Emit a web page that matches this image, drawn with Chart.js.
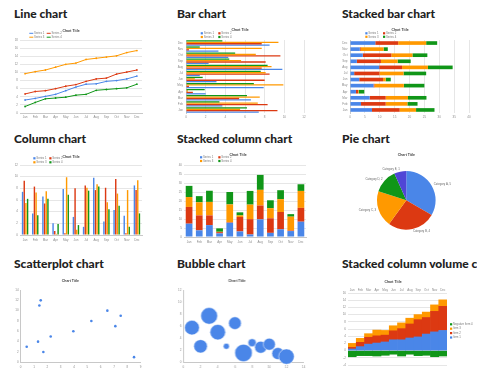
<!DOCTYPE html>
<html><head><meta charset="utf-8">
<script src="https://cdn.jsdelivr.net/npm/chart.js@4.4.0/dist/chart.umd.min.js"></script>
<style>
html,body{margin:0;padding:0;background:#fff;width:477px;height:381px;overflow:hidden;position:relative}
.h{position:absolute;font-family:Lato,'Open Sans',sans-serif;font-weight:900;font-size:12px;line-height:12px;color:#222;white-space:nowrap}
canvas{position:absolute}
</style></head><body>
<div class="h" style="left:14px;top:8px">Line chart</div>
<div class="h" style="left:177px;top:8px">Bar chart</div>
<div class="h" style="left:342px;top:8px">Stacked bar chart</div>
<div class="h" style="left:14px;top:133px">Column chart</div>
<div class="h" style="left:177px;top:133px">Stacked column chart</div>
<div class="h" style="left:342px;top:133px">Pie chart</div>
<div class="h" style="left:14px;top:258px">Scatterplot chart</div>
<div class="h" style="left:177px;top:258px">Bubble chart</div>
<div class="h" style="left:342px;top:258px">Stacked column volume chart</div>
<script>
// ---------- data ----------
const months = ['Jan','Feb','Mar','Apr','May','Jun','Jul','Aug','Sep','Oct','Nov','Dec'];
const seriesNames = ['Series 1','Series 2','Series 3','Series 4'];
const chartTitle = 'Chart Title';

const lineS1 = [3.2,3.6,4.1,4.6,5.5,6.4,7.1,7.2,7.8,8.0,8.4,9.1];
const lineS2 = [4.7,5.3,5.5,6.0,6.6,7.0,7.8,8.4,8.6,9.6,10.1,10.6];
const lineS3 = [9.7,10.2,10.6,11.3,12.0,12.3,13.2,13.5,13.8,14.1,14.9,15.4];
const lineS4 = [1.6,2.6,3.5,3.7,3.9,4.4,4.6,5.6,5.8,6.0,6.2,7.1];

const barS1 = [7.4,3.7,6.6,2.0,7.9,3.1,1.4,9.8,2.3,4.3,3.3,8.5];
const barS2 = [9.3,8.3,5.4,0.7,0.3,8.0,8.5,7.7,8.1,9.6,0.3,7.7];
const barS3 = [5.5,7.3,7.5,0.2,9.9,0.9,8.1,8.7,5.6,7.1,7.7,9.4];
const barS4 = [6.2,3.4,6.2,1.9,6.9,1.7,7.6,8.3,4.4,5.0,1.4,3.7];

const pieLabels = ['Category A','Category B','Category C','Category D','Category E'];
const pieValues = [5,4,3,2,1];

const scatterX = [0.45,1.3,1.4,1.5,1.7,2.25,3.95,5.3,6.5,7.1,7.5,8.5];
const scatterY = [3,4,11,12,2,5,6,8,10,7,9,1];

const bubbleX = [1,2,3,4,5,6,7,8,9,10,11,12];
const bubbleY = [5.75,2.65,7.7,5.0,2.65,6.5,1.55,3.25,2.5,3.0,1.45,0.95];
const bubbleSize = [7.3,6.7,8.3,7.7,3,6.3,8.7,4,6,6,6,7.7];

const volNames = ['Item 1','Item 2','Item 3','Negative Item 4'];
const volItem1 = [0.45,1.1,1.8,2.1,2.4,3.0,3.0,3.5,3.8,4.6,5.2,5.6];
const volItem2 = [0.45,1.2,1.9,2.0,1.9,2.5,3.1,3.9,4.8,4.6,5.7,6.7];
const volItem3 = [1.1,1.1,1.0,1.6,1.3,1.4,1.6,1.6,1.4,1.5,1.8,1.8];
const volNeg   = [-1.7,-1.4,-1.4,-1.5,-1.3,-1.0,-1.5,-1.0,-1.4,-1.3,-1.7,-1.5];

// ---------- styling ----------
const C = {blue:'#4a86e8', red:'#dc3912', orange:'#ff9900', green:'#109618', purple:'#5046d6'};
const FAMILY = "'Liberation Sans', Arial, sans-serif";
const TICK = {size:3, family:FAMILY};
const TC = '#8c8c8c';
const GRID = '#e6e6e6';
const AXIS = '#c8c8c8';
Chart.defaults.font.family = FAMILY;

function fit(size){
  return function(s){
    if (s.isHorizontal()) s.height = size; else s.width = size;
    s.paddingLeft = s.paddingRight = s.paddingTop = s.paddingBottom = 0;
  };
}
function title(padBottom){
  return {display:true, text:chartTitle, color:'#444', font:{size:3.5, weight:'bold', family:FAMILY}, padding:{top:0, bottom:padBottom}};
}

const miniLegend = {
  id:'miniLegend',
  afterDraw(chart, args, o){
    if (!o || !o.items) return;
    const ctx = chart.ctx; ctx.save();
    ctx.font = (o.size || 2.8) + 'px ' + FAMILY;
    ctx.textBaseline = 'middle'; ctx.textAlign = 'left';
    o.items.forEach((idx, k) => {
      const ds = chart.data.datasets[idx];
      const col = k % o.cols, row = Math.floor(k / o.cols);
      const x = o.x + col*o.colW - o.ox, y = o.y + row*o.rowH - o.oy;
      ctx.fillStyle = o.line ? ds.borderColor : ds.backgroundColor;
      if (o.line) ctx.fillRect(x, y-0.5, 4, 1); else ctx.fillRect(x, y-1.1, 2.2, 2.2);
      ctx.fillStyle = '#777';
      ctx.fillText(ds.label, x + (o.line ? 4.8 : 3), y);
    });
    ctx.restore();
  }
};
const pieLabelPlugin = {
  id:'pieLabelPlugin',
  afterDraw(chart, args, o){
    if (!o || !o.on) return;
    const meta = chart.getDatasetMeta(0); const ctx = chart.ctx;
    ctx.save(); ctx.font = '2.8px ' + FAMILY; ctx.fillStyle = '#666'; ctx.textBaseline = 'middle';
    meta.data.forEach((arc, i) => {
      const mid = (arc.startAngle + arc.endAngle)/2;
      const r = arc.outerRadius + 2.5;
      const x = arc.x + Math.cos(mid)*r, y = arc.y + Math.sin(mid)*r;
      ctx.textAlign = Math.cos(mid) >= 0 ? 'left' : 'right';
      ctx.fillText(chart.data.labels[i] + ', ' + chart.data.datasets[0].data[i], x, y);
    });
    ctx.restore();
  }
};
Chart.register(miniLegend, pieLabelPlugin);

function makeChart(spec, config){
  const cv = document.createElement('canvas');
  cv.width = spec.width; cv.height = spec.height;
  cv.style.left = spec.left + 'px'; cv.style.top = spec.top + 'px';
  cv.style.width = spec.width + 'px'; cv.style.height = spec.height + 'px';
  document.body.appendChild(cv);
  config.options = Object.assign({responsive:false, animation:false, devicePixelRatio:1}, config.options);
  return new Chart(cv.getContext('2d'), config);
}
function ticks(extra){ return Object.assign({font:TICK, color:TC}, extra || {}); }
const noTip = {enabled:false};

// 1. Line chart
makeChart({left:0, top:24, width:166, height:100}, {
  type:'line',
  data:{labels:months, datasets:[
    {label:seriesNames[0], data:lineS1, borderColor:C.blue, backgroundColor:C.blue},
    {label:seriesNames[1], data:lineS2, borderColor:C.red, backgroundColor:C.red},
    {label:seriesNames[2], data:lineS3, borderColor:C.orange, backgroundColor:C.orange},
    {label:seriesNames[3], data:lineS4, borderColor:C.green, backgroundColor:C.green}]},
  options:{
    layout:{padding:{top:4.6, right:24, bottom:0, left:0}},
    elements:{line:{borderWidth:1, tension:0}, point:{radius:0.9, borderWidth:0}},
    plugins:{legend:{display:false}, tooltip:noTip, title:title(7.2),
      miniLegend:{items:[0,1,2,3], cols:2, x:29.3, y:33.3, colW:17.4, rowH:3.9, ox:0, oy:24, line:true}},
    scales:{
      x:{offset:true, grid:{display:false, drawTicks:false}, border:{color:AXIS}, ticks:ticks({padding:2.5, maxRotation:0, autoSkip:false}), afterFit:fit(11)},
      y:{min:0, max:18, ticks:ticks({stepSize:2, padding:2}), grid:{color:GRID, drawTicks:false}, border:{display:false}, afterFit:fit(20)}
    }
  }
});

// 2. Bar chart (horizontal, grouped)
makeChart({left:176, top:24, width:142, height:100}, {
  type:'bar',
  data:{labels:months, datasets:[
    {label:seriesNames[0], data:barS1, backgroundColor:C.blue, order:4},
    {label:seriesNames[1], data:barS2, backgroundColor:C.red, order:3},
    {label:seriesNames[2], data:barS3, backgroundColor:C.orange, order:2},
    {label:seriesNames[3], data:barS4, backgroundColor:C.green, order:1}]},
  options:{
    indexAxis:'y',
    datasets:{bar:{categoryPercentage:0.92, barPercentage:0.92}},
    layout:{padding:{top:3.9, right:14, bottom:0, left:0}},
    plugins:{legend:{display:false}, tooltip:noTip, title:title(7.9),
      miniLegend:{items:[0,1,2,3], cols:2, x:200.7, y:33.3, colW:17.6, rowH:3.7, ox:176, oy:24}},
    scales:{
      x:{min:0, max:12, ticks:ticks({stepSize:2, padding:2.5}), grid:{color:GRID, drawTicks:false}, border:{display:false}, afterFit:fit(11)},
      y:{reverse:true, grid:{display:false, drawTicks:false}, border:{color:AXIS}, ticks:ticks({padding:3, autoSkip:false}), afterFit:fit(10)}
    }
  }
});

// 3. Stacked bar chart
makeChart({left:331, top:24, width:146, height:100}, {
  type:'bar',
  data:{labels:months, datasets:[
    {label:seriesNames[0], data:barS1, backgroundColor:C.blue},
    {label:seriesNames[1], data:barS2, backgroundColor:C.red},
    {label:seriesNames[2], data:barS3, backgroundColor:C.orange},
    {label:seriesNames[3], data:barS4, backgroundColor:C.green}]},
  options:{
    indexAxis:'y',
    datasets:{bar:{categoryPercentage:0.6, barPercentage:1}},
    layout:{padding:{top:3.9, right:8, bottom:0, left:0}},
    plugins:{legend:{display:false}, tooltip:noTip, title:title(7.9),
      miniLegend:{items:[0,1,2,3], cols:2, x:365.3, y:33.3, colW:17.7, rowH:3.5, ox:331, oy:24}},
    scales:{
      x:{stacked:true, min:0, max:40, ticks:ticks({stepSize:5, padding:2.5}), grid:{color:GRID, drawTicks:false}, border:{display:false}, afterFit:fit(11)},
      y:{stacked:true, reverse:true, grid:{display:false, drawTicks:false}, border:{color:AXIS}, ticks:ticks({padding:2.5, autoSkip:false}), afterFit:fit(19)}
    }
  }
});

// 4. Column chart
makeChart({left:0, top:149, width:144, height:100}, {
  type:'bar',
  data:{labels:months, datasets:[
    {label:seriesNames[0], data:barS1, backgroundColor:C.blue},
    {label:seriesNames[1], data:barS2, backgroundColor:C.red},
    {label:seriesNames[2], data:barS3, backgroundColor:C.orange},
    {label:seriesNames[3], data:barS4, backgroundColor:C.green}]},
  options:{
    datasets:{bar:{categoryPercentage:0.66, barPercentage:0.85}},
    layout:{padding:{top:5.6, right:2, bottom:0, left:0}},
    plugins:{legend:{display:false}, tooltip:noTip, title:title(6.2),
      miniLegend:{items:[0,1,2,3], cols:2, x:33.3, y:158.3, colW:16, rowH:4, ox:0, oy:149}},
    scales:{
      x:{grid:{display:false, drawTicks:false}, border:{color:AXIS}, ticks:ticks({padding:3.5, maxRotation:0, autoSkip:false}), afterFit:fit(14)},
      y:{min:0, max:12, ticks:ticks({stepSize:2, padding:2}), grid:{color:GRID, drawTicks:false}, border:{display:false}, afterFit:fit(20)}
    }
  }
});

// 5. Stacked column chart
makeChart({left:170, top:149, width:146, height:100}, {
  type:'bar',
  data:{labels:months, datasets:[
    {label:seriesNames[0], data:barS1, backgroundColor:C.blue},
    {label:seriesNames[1], data:barS2, backgroundColor:C.red},
    {label:seriesNames[2], data:barS3, backgroundColor:C.orange},
    {label:seriesNames[3], data:barS4, backgroundColor:C.green}]},
  options:{
    datasets:{bar:{categoryPercentage:0.66, barPercentage:1}},
    layout:{padding:{top:3.9, right:10, bottom:0, left:0}},
    plugins:{legend:{display:false}, tooltip:noTip, title:title(7.9),
      miniLegend:{items:[0,1,2,3], cols:2, x:200, y:157.3, colW:18.3, rowH:3.7, ox:170, oy:149}},
    scales:{
      x:{stacked:true, grid:{display:false, drawTicks:false}, border:{color:AXIS}, ticks:ticks({padding:3.2, maxRotation:0, autoSkip:false}), afterFit:fit(12)},
      y:{stacked:true, min:0, max:40, ticks:ticks({stepSize:5, padding:2}), grid:{color:GRID, drawTicks:false}, border:{display:false}, afterFit:fit(14)}
    }
  }
});

// 6. Pie chart
makeChart({left:337, top:149, width:140, height:100}, {
  type:'pie',
  data:{labels:pieLabels, datasets:[{data:pieValues, backgroundColor:[C.blue, C.red, C.orange, C.green, C.purple], borderWidth:0}]},
  options:{
    layout:{padding:{top:3.9, right:41.4, bottom:19.4, left:40}},
    plugins:{legend:{display:false}, tooltip:noTip, title:title(13.9), pieLabelPlugin:{on:true}}
  }
});

// 7. Scatterplot chart
makeChart({left:0, top:274, width:166, height:104}, {
  type:'scatter',
  data:{datasets:[{label:'Series 1', data:scatterX.map((x,i)=>({x, y:scatterY[i]})), backgroundColor:C.blue, borderWidth:0, pointRadius:1.3}]},
  options:{
    layout:{padding:{top:4.6, right:25.3, bottom:0, left:0}},
    plugins:{legend:{display:false}, tooltip:noTip, title:title(7.2)},
    scales:{
      x:{type:'linear', min:0, max:9, ticks:ticks({stepSize:1, padding:2.9}), grid:{display:false, drawTicks:false}, border:{color:AXIS}, afterFit:fit(15.7)},
      y:{min:0, max:14, ticks:ticks({stepSize:2, padding:2}), grid:{display:false, drawTicks:false}, border:{color:AXIS}, afterFit:fit(20.7)}
    }
  }
});

// 8. Bubble chart
makeChart({left:170, top:274, width:146.6, height:104}, {
  type:'bubble',
  data:{datasets:[{label:'Series 1', data:bubbleX.map((x,i)=>({x, y:bubbleY[i], r:bubbleSize[i]})), backgroundColor:C.blue, borderColor:'rgba(255,255,255,0.85)', borderWidth:0.6, clip:false}]},
  options:{
    layout:{padding:{top:4.6, right:13.3, bottom:0, left:0}},
    plugins:{legend:{display:false}, tooltip:noTip, title:title(7.2)},
    scales:{
      x:{min:0, max:14, ticks:ticks({stepSize:2, padding:2.9}), grid:{display:false, drawTicks:false}, border:{color:AXIS}, afterFit:fit(15.7)},
      y:{min:0, max:12, ticks:ticks({stepSize:2, padding:2}), grid:{display:false, drawTicks:false}, border:{color:AXIS}, afterFit:fit(13.3)}
    }
  }
});

// 9. Stacked column volume chart
makeChart({left:339, top:274, width:138, height:104}, {
  type:'bar',
  data:{labels:months, datasets:[
    {label:volNames[0], data:volItem1, backgroundColor:C.blue},
    {label:volNames[1], data:volItem2, backgroundColor:C.red},
    {label:volNames[2], data:volItem3, backgroundColor:C.orange},
    {label:volNames[3], data:volNeg, backgroundColor:C.green}]},
  options:{
    datasets:{bar:{categoryPercentage:1, barPercentage:1}},
    layout:{padding:{top:5.6, right:30, bottom:13, left:0}},
    plugins:{legend:{display:false}, tooltip:noTip, title:title(4.2),
      miniLegend:{items:[3,2,1,0], cols:1, x:450, y:324.3, colW:0, rowH:4.4, ox:339, oy:274}},
    scales:{
      x:{position:'top', stacked:true, grid:{display:false, drawTicks:false}, border:{display:false}, ticks:ticks({padding:1.5, maxRotation:0, autoSkip:false}), afterFit:fit(5)},
      y:{stacked:true, min:-4, max:16, ticks:ticks({stepSize:2, padding:2}), grid:{color:GRID, drawTicks:false}, border:{display:false}, afterFit:fit(9)}
    }
  }
});
</script>
</body></html>
